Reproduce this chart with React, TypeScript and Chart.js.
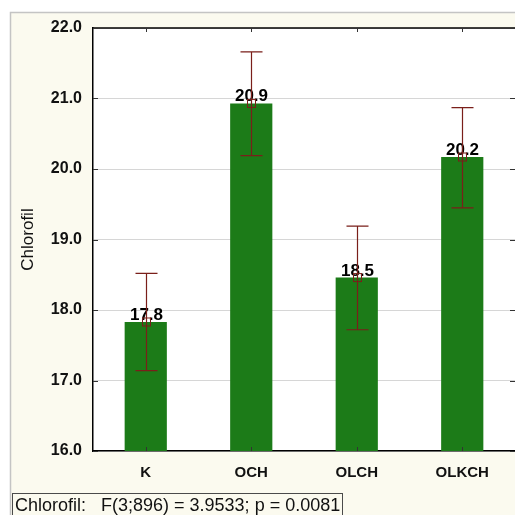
import React, { useEffect, useRef } from "react";
import { Chart, registerables } from "chart.js";

Chart.register(...registerables);

// Group means of chlorophyll content with confidence intervals
const categories = ["K", "OCH", "OLCH", "OLKCH"];
const means = [17.83, 20.93, 18.46, 20.17];
const upperBounds = [18.52, 21.66, 19.19, 20.87];
const lowerBounds = [17.14, 20.19, 17.72, 19.45];
const yTicks = [16, 17, 18, 19, 20, 21, 22];
const axisTitle = "Chlorofil";
const footerText = "Chlorofil:   F(3;896) = 3.9533; p = 0.0081";

const FONT = "Arial, 'Liberation Sans', sans-serif";
const BAR_GREEN = "#1c7b18";
const ERR_RED = "#7a1f1a";
const PANEL_BG = "#fbfaef";

const panelPlugin = {
  id: "panelDecor",
  beforeDraw(chart: any) {
    const { ctx, chartArea, width, height } = chart;
    ctx.save();
    ctx.fillStyle = "#ffffff";
    ctx.fillRect(0, 0, width, height);
    ctx.fillStyle = PANEL_BG;
    ctx.fillRect(10, 12, width, height);
    ctx.strokeStyle = "#c4c4c4";
    ctx.lineWidth = 1.5;
    ctx.beginPath();
    ctx.moveTo(10.5, height);
    ctx.lineTo(10.5, 12.5);
    ctx.lineTo(width, 12.5);
    ctx.stroke();
    ctx.fillStyle = "#ffffff";
    ctx.fillRect(chartArea.left, chartArea.top, chartArea.right - chartArea.left, chartArea.bottom - chartArea.top);
    ctx.restore();
  },
  afterDraw(chart: any) {
    const { ctx, chartArea, scales } = chart;
    const xs = scales.x;
    const ys = scales.y;
    ctx.save();
    // frame top line
    ctx.strokeStyle = "#000000";
    ctx.lineWidth = 1.5;
    ctx.beginPath();
    ctx.moveTo(chartArea.left, chartArea.top);
    ctx.lineTo(chartArea.right, chartArea.top);
    ctx.stroke();
    // small inner tick marks
    ctx.lineWidth = 1;
    ctx.strokeStyle = "#333333";
    ctx.beginPath();
    yTicks.forEach((v) => {
      const y = Math.round(ys.getPixelForValue(v)) + 0.5;
      ctx.moveTo(chartArea.left, y);
      ctx.lineTo(chartArea.left + 5, y);
      ctx.moveTo(chartArea.right - 5, y);
      ctx.lineTo(chartArea.right, y);
    });
    categories.forEach((_, i) => {
      const x = Math.round(xs.getPixelForValue(i)) + 0.5;
      ctx.moveTo(x, chartArea.top);
      ctx.lineTo(x, chartArea.top + 4);
      ctx.moveTo(x, chartArea.bottom);
      ctx.lineTo(x, chartArea.bottom - 4);
    });
    ctx.stroke();

    // statistics footer
    ctx.fillStyle = PANEL_BG;
    ctx.fillRect(12, 493, 330, 30);
    ctx.strokeStyle = "#4a4a4a";
    ctx.lineWidth = 1;
    ctx.strokeRect(12.5, 493.5, 330, 30);
    ctx.fillStyle = "#111111";
    ctx.font = `18px ${FONT}`;
    ctx.textAlign = "left";
    ctx.textBaseline = "alphabetic";
    ctx.fillText(footerText, 15, 511);
    ctx.restore();
  },
};

const errorBarPlugin = {
  id: "errorBars",
  afterDatasetsDraw(chart: any) {
    const { ctx, scales } = chart;
    const xs = scales.x;
    const ys = scales.y;
    ctx.save();
    means.forEach((m, i) => {
      const x = Math.round(xs.getPixelForValue(i)) + 0.5;
      const yMean = ys.getPixelForValue(m);
      const yHi = ys.getPixelForValue(upperBounds[i]);
      const yLo = ys.getPixelForValue(lowerBounds[i]);

      // value label
      ctx.fillStyle = "#000000";
      ctx.font = `bold 17px ${FONT}`;
      ctx.textAlign = "center";
      ctx.textBaseline = "alphabetic";
      ctx.fillText(m.toFixed(1), x, yMean - 2);

      // whisker
      ctx.strokeStyle = ERR_RED;
      ctx.lineWidth = 1.2;
      ctx.beginPath();
      ctx.moveTo(x, yHi);
      ctx.lineTo(x, yLo);
      ctx.moveTo(x - 11, yHi);
      ctx.lineTo(x + 11, yHi);
      ctx.moveTo(x - 11, yLo);
      ctx.lineTo(x + 11, yLo);
      ctx.stroke();

      // mean marker
      ctx.lineWidth = 1;
      ctx.strokeRect(x - 4, yMean - 4, 8, 8);
    });
    ctx.restore();
  },
};

export default function App() {
  const canvasRef = useRef<HTMLCanvasElement | null>(null);

  useEffect(() => {
    if (!canvasRef.current) return;
    const chart = new Chart(canvasRef.current, {
      type: "bar",
      data: {
        labels: categories,
        datasets: [
          {
            data: means,
            backgroundColor: BAR_GREEN,
            borderWidth: 0,
            barPercentage: 0.4,
            categoryPercentage: 1,
          },
        ],
      },
      options: {
        responsive: false,
        animation: false,
        events: [],
        layout: { padding: { top: 28, right: -1, bottom: 0, left: 0 } },
        plugins: {
          legend: { display: false },
          tooltip: { enabled: false },
        },
        scales: {
          x: {
            grid: { display: false, drawTicks: false },
            border: { color: "#000000", width: 1.5 },
            ticks: {
              color: "#111111",
              font: { family: FONT, size: 15, weight: "bold" },
              padding: 13,
            },
            afterFit: (s: any) => {
              s.height = 64;
            },
          },
          y: {
            min: 16,
            max: 22,
            afterBuildTicks: (s: any) => {
              s.ticks = yTicks.map((v) => ({ value: v }));
            },
            grid: { color: "#d6d6d6", lineWidth: 1, drawTicks: false },
            border: { color: "#000000", width: 1.5 },
            ticks: {
              color: "#111111",
              font: { family: FONT, size: 16, weight: "bold" },
              padding: 11,
              callback: (v: any) => Number(v).toFixed(1),
            },
            title: {
              display: true,
              text: axisTitle,
              color: "#111111",
              font: { family: FONT, size: 17, weight: "normal" },
              padding: { top: 18, bottom: 0 },
            },
            afterFit: (s: any) => {
              s.width = 93;
            },
          },
        },
      },
      plugins: [panelPlugin, errorBarPlugin],
    });
    return () => chart.destroy();
  }, []);

  return (
    <div style={{ position: "fixed", left: 0, top: 0, width: 515, height: 515 }}>
      <canvas ref={canvasRef} width={515} height={515} />
    </div>
  );
}
